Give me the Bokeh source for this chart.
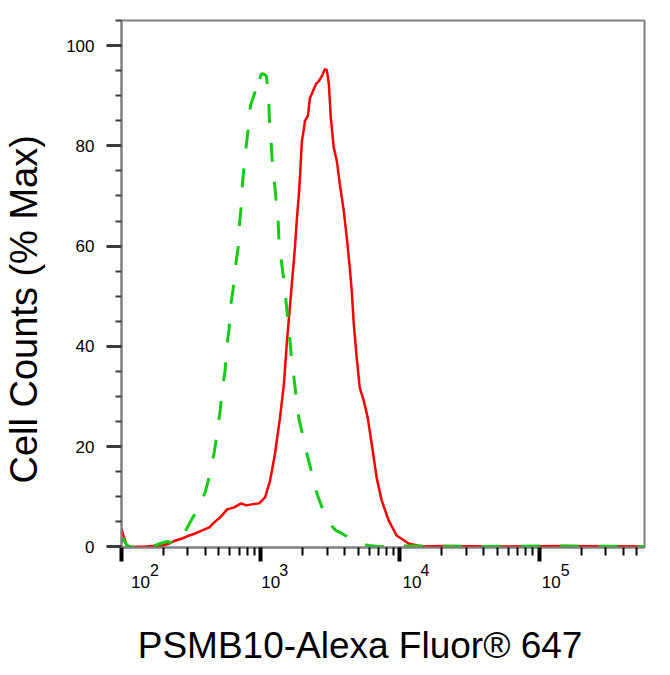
import math
from bokeh.plotting import figure
from bokeh.models import Range1d, FixedTicker, LogAxis, LinearAxis
from bokeh.embed import file_html
from bokeh.resources import INLINE

# ---------------- data ----------------
# fluorescence intensity (PSMB10-Alexa Fluor 647) and cell counts (% of max)
red_x = [100, 103, 109, 120, 149, 197, 221, 244, 273, 307, 339, 380, 427, 471,
         511, 574, 644, 723, 785, 866, 972, 1074, 1166, 1266, 1375, 1468, 1543,
         1621, 1760, 1819, 1880, 1911, 1975, 2042, 2076, 2181, 2254, 2368, 2488,
         2615, 2747, 2886, 2983, 3083, 3186, 3347, 3517, 3696, 3947, 4148, 4358,
         4503, 4655, 4890, 5138, 5488, 5862, 6262, 6799, 7385, 8286, 9456, 11525,
         14273, 20000, 50000, 150000, 570000]
red_y = [3.7, 2.3, 0.3, 0.0, 0.1, 0.3, 0.7, 1.3, 1.7, 2.3, 2.7, 3.3, 3.9, 5.1,
         5.9, 7.5, 7.9, 8.7, 8.3, 8.5, 8.7, 9.9, 13.2, 18.6, 25.8, 32.6, 41.1,
         48.0, 59.7, 65.6, 70.4, 73.6, 81.0, 83.4, 85.0, 86.0, 89.5, 90.9, 92.3,
         92.9, 93.9, 95.3, 95.1, 92.3, 85.6, 79.6, 77.0, 72.4, 67.0, 61.7, 55.7,
         51.1, 44.5, 37.7, 31.8, 29.2, 25.8, 20.6, 13.8, 9.3, 5.3, 2.3, 0.7,
         0.1, 0.2, 0.1, 0.2, 0.1]

green_x = [100, 103, 109, 116, 167, 190, 213, 240, 264, 297, 322, 350, 399, 434,
           463, 487, 511, 528, 555, 564, 593, 603, 634, 655, 688, 699, 723, 735,
           759, 785, 820, 843, 915, 967, 993, 1022, 1056, 1097, 1141, 1152, 1179,
           1205, 1245, 1287, 1330, 1352, 1398, 1468, 1517, 1568, 1621, 1675, 1731,
           1819, 1880, 2145, 2529, 2839, 3083, 3459, 3819, 4503, 5138, 5961, 7028,
           12000, 40000, 120000, 570000]
green_y = [1.1, 1.7, 0.3, 0.0, 0.1, 0.7, 1.1, 0.7, 1.3, 3.9, 5.7, 7.3, 10.9, 14.8,
           18.8, 22.8, 27.2, 31.2, 35.2, 39.1, 43.5, 47.5, 51.5, 55.5, 59.7, 63.6,
           67.8, 71.6, 76.0, 79.8, 84.3, 88.0, 90.9, 90.3, 93.9, 94.4, 94.3, 93.9,
           89.9, 85.6, 82.0, 77.6, 73.6, 69.4, 65.6, 61.1, 57.5, 53.1, 49.1, 45.1,
           41.1, 36.8, 33.8, 28.6, 25.6, 18.6, 10.7, 6.9, 4.9, 3.3, 2.7, 1.5, 0.7,
           0.3, 0.1, 0.2, 0.1, 0.2, 0.1]

y_major = [0, 20, 40, 60, 80, 100]
y_minor = [5, 10, 15, 25, 30, 35, 45, 50, 55, 65, 70, 75, 85, 90, 95, 105]
x_major = [100, 1000, 10000, 100000]
x_minor = [m * d for d in (100, 1000, 10000, 100000) for m in range(2, 10)]
x_tick_base = ["10", "10", "10", "10"]
x_tick_exp = ["2", "3", "4", "5"]

x_title = "PSMB10-Alexa Fluor\u00ae 647"
y_title = "Cell Counts (% Max)"

# ---------------- layout / style ----------------
XMIN, XMAX = 100, 5.7e5
YMIN, YMAX = -0.1, 105
W, H = 670, 675
BL, BR, BT, BB = 119, 26, 20, 128
FW = W - BL - BR
PX_PER_DECADE = FW / math.log10(XMAX / XMIN)
FONT = "Liberation Sans"
# horizontal nudge (px, right of each decade tick) of the "10" and of its exponent
base_nudge = [19, 10, 12, 12]
exp_nudge = [33, 23, 25, 26]
X_TITLE_CENTER_PX = 239.5     # from the frame's left edge
Y_TITLE_CENTER = 47.4         # in y units


def nudged(d, dx):
    return round(d * 10 ** (dx / PX_PER_DECADE), 1)


p = figure(width=W, height=H, x_axis_type="log",
           x_range=Range1d(XMIN, XMAX), y_range=Range1d(YMIN, YMAX),
           output_backend="svg", toolbar_location=None,
           min_border_left=BL, min_border_right=BR,
           min_border_top=BT, min_border_bottom=BB)
p.grid.visible = False
p.background_fill_color = "white"
p.border_fill_color = "white"
p.outline_line_color = "#808080"
p.outline_line_width = 2

# y axis
ya = p.yaxis[0]
ya.ticker = FixedTicker(ticks=y_major, minor_ticks=y_minor)
ya.axis_line_color = "#808080"
ya.axis_line_width = 2
ya.major_tick_in = 0
ya.major_tick_out = 15
ya.major_tick_line_width = 3
ya.major_tick_line_color = "#3a3a3a"
ya.minor_tick_in = 0
ya.minor_tick_out = 6
ya.minor_tick_line_width = 2
ya.minor_tick_line_color = "#3a3a3a"
ya.major_label_standoff = 12
ya.major_label_text_font = FONT
ya.major_label_text_font_size = "17px"
ya.major_label_text_color = "black"

# x axis: ticks only
xa = p.xaxis[0]
xa.ticker = FixedTicker(ticks=x_major, minor_ticks=x_minor)
xa.axis_line_color = "#808080"
xa.axis_line_width = 2
xa.major_tick_in = 0
xa.major_tick_out = 14
xa.major_tick_line_width = 4
xa.major_tick_line_color = "black"
xa.minor_tick_in = 0
xa.minor_tick_out = 8
xa.minor_tick_line_width = 2
xa.minor_tick_line_color = "black"
xa.major_label_overrides = {d: "" for d in x_major}
xa.major_label_text_font_size = "1px"
xa.major_label_standoff = 0


def text_axis(cls, pos, texts, size, standoff):
    ax = cls(ticker=FixedTicker(ticks=pos, minor_ticks=[]))
    ax.major_label_overrides = {q: t for q, t in zip(pos, texts)}
    ax.axis_line_color = None
    ax.major_tick_line_color = None
    ax.minor_tick_line_color = None
    ax.major_tick_in = 0
    ax.major_tick_out = 0
    ax.minor_tick_in = 0
    ax.minor_tick_out = 0
    ax.major_label_text_font = FONT
    ax.major_label_text_font_size = size
    ax.major_label_text_color = "black"
    ax.major_label_standoff = standoff
    return ax


# exponents, then the "10"s just below (overlapping upward), then the x title
exp_pos = [nudged(d, n) for d, n in zip(x_major, exp_nudge)]
base_pos = [nudged(d, n) for d, n in zip(x_major, base_nudge)]
p.add_layout(text_axis(LogAxis, exp_pos, x_tick_exp, "16px", 2), "below")
p.add_layout(text_axis(LogAxis, base_pos, x_tick_base, "17px", -3), "below")
xt_pos = [nudged(XMIN, X_TITLE_CENTER_PX)]
p.add_layout(text_axis(LogAxis, xt_pos, [x_title], "37px", 34), "below")

# y title as a rotated label left of the tick labels
yt = text_axis(LinearAxis, [Y_TITLE_CENTER], [y_title], "38px", 18)
yt.major_label_orientation = "vertical"
p.add_layout(yt, "left")

# data lines
p.line(red_x, red_y, line_color="#ff0000", line_width=2.5)
p.line(green_x, green_y, line_color="#14cc14", line_width=3, line_dash="19 20")

open("out.html", "w").write(file_html(p, INLINE))
